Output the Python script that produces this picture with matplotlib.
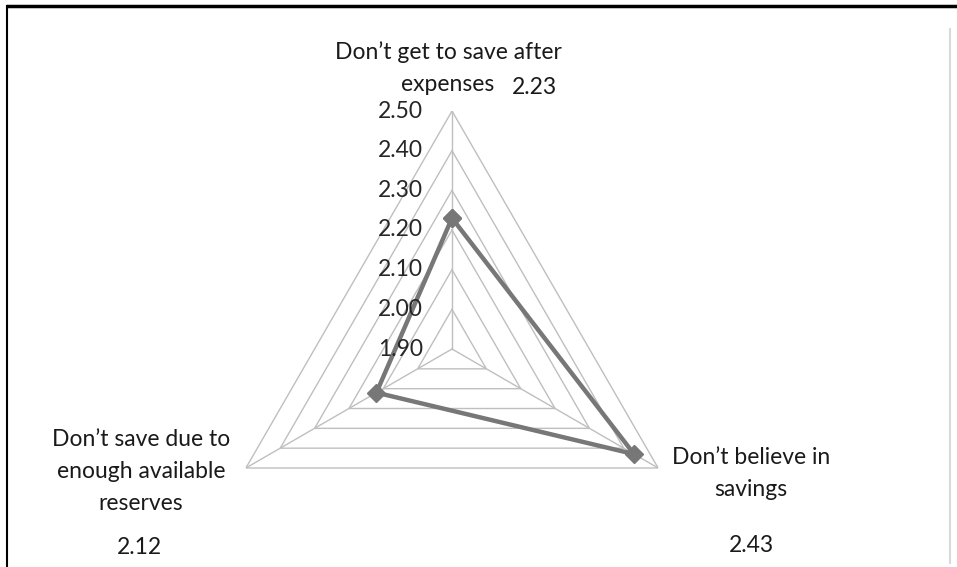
import numpy as np
import matplotlib
matplotlib.use("Agg")
import matplotlib.pyplot as plt
from matplotlib.transforms import offset_copy

# data
categories = [["Don\u2019t get to save after", "expenses"],
              ["Don\u2019t believe in", "savings"],
              ["Don\u2019t save due to", "enough available", "reserves"]]
values = [2.23, 2.43, 2.12]
value_labels = ["2.23", "2.43", "2.12"]
r_ticks = [1.90, 2.00, 2.10, 2.20, 2.30, 2.40, 2.50]
r_min, r_max = 1.90, 2.50

plt.rcParams['font.family'] = ['Lato', 'DejaVu Sans']
W, H = 957, 567
fig = plt.figure(figsize=(W / 100, H / 100), dpi=100)

# frame like the pasted Excel chart
fig.add_artist(plt.Line2D([8 / W, 1], [1 - 6 / H, 1 - 6 / H], color="black", lw=2.5))
fig.add_artist(plt.Line2D([7 / W, 7 / W], [0, 1 - 6 / H], color="black", lw=1.5))
fig.add_artist(plt.Line2D([950 / W, 950 / W], [4 / H, 1 - 29 / H], color="#d9d9d9", lw=1.5))

cx, cy, R = 452, 567 - 349, 238
ax = fig.add_axes([(cx - R) / W, (cy - R) / H, 2 * R / W, 2 * R / H], projection="polar")
ax.set_ylim(r_min, r_max)
ax.grid(False)
ax.spines["polar"].set_visible(False)
ax.set_xticks([])
ax.set_yticks([])
ax.patch.set_alpha(0)

angles = np.deg2rad([90, -30, 210])
ang_closed = np.append(angles, angles[0])

grid_col = "#bfbfbf"
for t in r_ticks[1:]:
    ax.plot(ang_closed, [t] * 4, color=grid_col, lw=1.0, zorder=1)
for a in angles:
    ax.plot([a, a], [r_min, r_max], color=grid_col, lw=1.0, zorder=1)

ax.plot(ang_closed, values + [values[0]], color="#777777", lw=3.2,
        marker="D", markersize=9, markerfacecolor="#777777",
        markeredgecolor="#777777", zorder=3)

# radial tick labels left of the vertical axis
lab_tr = offset_copy(ax.transData, fig=fig, x=-29, y=0, units="dots")
for t in r_ticks:
    ax.text(np.pi / 2, t, f"{t:.2f}", transform=lab_tr, ha="right", va="center",
            fontsize=16.5, color="#262626")

txt_col = "#1a1a1a"
fs = 16.5


def put(x, y, s):
    fig.text(x / W, 1 - y / H, s, ha="center", va="center", fontsize=fs, color=txt_col)


# category labels, one text per line, in figure pixels
for i, line in enumerate(categories[0]):
    put(448, 52 + 33 * i, line)
for i, line in enumerate(categories[1]):
    put(751, 457 + 33 * i, line)
for i, line in enumerate(categories[2]):
    put(141, 440 + 32 * i, line)

put(534, 87, value_labels[0])
put(751, 546, value_labels[1])
put(139, 547, value_labels[2])

fig.savefig("out.png", dpi=100, facecolor="white")
